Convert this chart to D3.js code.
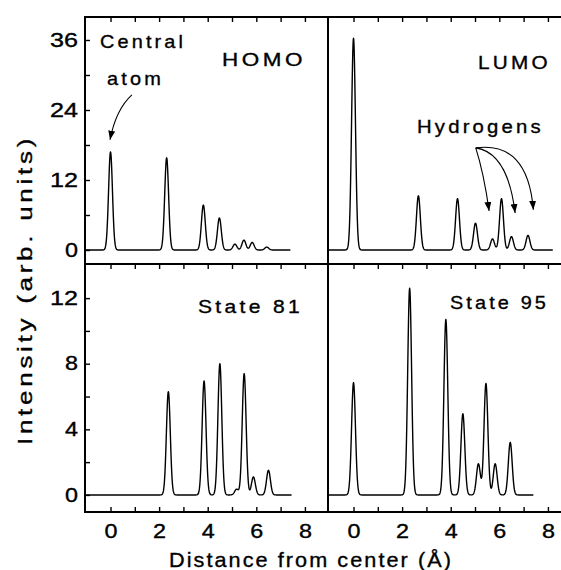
<!DOCTYPE html>
<html>
<head>
<meta charset="utf-8">
<script src="https://cdn.jsdelivr.net/npm/d3@7"></script>
<style>
  body { margin: 0; background: #fff; }
  svg { display: block; font-family: "Liberation Sans", Arial, sans-serif; }
  svg text { stroke: #000; stroke-width: 0.35px; }
</style>
</head>
<body>
<div id="chart"></div>
<script>
var width = 561, height = 570;

// peak centres (Å) and peak heights (arb. units)
var homoPos    = [0, 2.31, 3.82, 4.48, 5.12, 5.49, 5.83, 6.43];
var homoHeight = [16.8, 15.8, 7.7, 5.5, 1.0, 1.7, 1.3, 0.5];
var lumoPos    = [0, 2.67, 4.28, 5.02, 5.72, 6.09, 6.5, 7.18];
var lumoHeight = [36.3, 9.3, 8.8, 4.6, 1.9, 8.8, 2.3, 2.5];
var s81Pos     = [2.38, 3.85, 4.5, 5.19, 5.5, 5.88, 6.5];
var s81Height  = [6.3, 6.95, 8.0, 0.35, 7.4, 1.1, 1.5];
var s95Pos     = [0, 2.31, 3.8, 4.5, 5.14, 5.45, 5.83, 6.45];
var s95Height  = [6.85, 12.6, 10.7, 4.95, 1.9, 6.8, 1.9, 3.2];
var curveEnd   = [7.4, 8.2, 7.45, 7.4];
var peakSigma  = 0.08;

// ticks
var xTicks = [0, 1, 2, 3, 4, 5, 6, 7, 8];
var xTickLabels = [0, 2, 4, 6, 8];
var topYTicks = [0, 6, 12, 18, 24, 30, 36];
var topYLabels = [0, 12, 24, 36];
var botYTicks = [0, 2, 4, 6, 8, 10, 12];
var botYLabels = [0, 4, 8, 12];

// frame layout (window.top is reserved, so f-prefixed names)
var fLeft = 85, fMid = 328, fRight = 571;
var fTop = 17, fMidY = 264, fBottom = 512;

var xScales = [
  d3.scaleLinear().domain([-1.05, 8.95]).range([fLeft, fMid]),
  d3.scaleLinear().domain([-1.05, 8.95]).range([fMid, fRight])
];
var yScales = [
  d3.scaleLinear().domain([-2.4, 39.94]).range([fMidY, fTop]),
  d3.scaleLinear().domain([-1.04, 14.08]).range([fBottom, fMidY])
];

var panels = [
  {pos: homoPos, hgt: homoHeight, end: curveEnd[0], col: 0, row: 0},
  {pos: lumoPos, hgt: lumoHeight, end: curveEnd[1], col: 1, row: 0},
  {pos: s81Pos,  hgt: s81Height,  end: curveEnd[2], col: 0, row: 1},
  {pos: s95Pos,  hgt: s95Height,  end: curveEnd[3], col: 1, row: 1}
];

// annotation layout, in data units of the panel
var notes = [
  {text: "Central",   panel: 0, x: -0.43, y: 34.6, w: 86},
  {text: "atom",      panel: 0, x: -0.14, y: 28.3, w: 57},
  {text: "HOMO",      panel: 0, x: 4.59,  y: 31.5, w: 84},
  {text: "LUMO",      panel: 1, x: 5.12,  y: 31.0, w: 73},
  {text: "Hydrogens", panel: 1, x: 2.61,  y: 20.05, w: 127},
  {text: "State 81",  panel: 2, x: 3.6,   y: 11.09, w: 105},
  {text: "State 95",  panel: 3, x: 3.97,  y: 11.34, w: 99}
];
var arrows = [
  {panel: 0, from: [0.88, 26.6], ctrl: [0.22, 24.1], to: [-0.02, 18.9]},
  {panel: 1, from: [5.03, 17.5], ctrl: [5.36, 13.2], to: [5.58, 6.7]},
  {panel: 1, from: [5.03, 17.5], ctrl: [6.35, 16.7], to: [6.65, 6.35]},
  {panel: 1, from: [5.03, 17.5], ctrl: [7.17, 18.7], to: [7.4, 6.9]}
];

var svg = d3.select("#chart").append("svg")
  .attr("width", width)
  .attr("height", height);

svg.append("defs").append("marker")
  .attr("id", "arrow")
  .attr("viewBox", "0 0 9 7")
  .attr("refX", 9)
  .attr("refY", 3.5)
  .attr("markerWidth", 9)
  .attr("markerHeight", 7)
  .attr("markerUnits", "userSpaceOnUse")
  .attr("orient", "auto")
  .append("path")
  .attr("d", "M0,0 L9,3.5 L0,7 z")
  .attr("fill", "#000");

function profile(pos, hgt, x0, x1) {
  return d3.range(x0, x1 + 1e-9, 0.01).map(function(x) {
    var v = 0;
    pos.forEach(function(c, i) {
      v += hgt[i] * Math.exp(-(x - c) * (x - c) / (2 * peakSigma * peakSigma));
    });
    return [x, v];
  });
}

// curves
panels.forEach(function(p) {
  var x = xScales[p.col], y = yScales[p.row];
  var line = d3.line()
    .x(function(d) { return x(d[0]); })
    .y(function(d) { return y(d[1]); });
  svg.append("path")
    .datum(profile(p.pos, p.hgt, x.domain()[0], p.end))
    .attr("d", line)
    .attr("fill", "none")
    .attr("stroke", "#000")
    .attr("stroke-width", 1.4)
    .attr("stroke-linejoin", "round");
});

// frame
var frame = [
  [fLeft, fTop, width, fTop],
  [fLeft, fMidY, width, fMidY],
  [fLeft, fBottom, width, fBottom],
  [fLeft, fTop, fLeft, fBottom],
  [fMid, fTop, fMid, fBottom]
];
svg.selectAll(".frame")
  .data(frame)
  .enter().append("line")
  .attr("class", "frame")
  .attr("x1", function(d) { return d[0]; })
  .attr("y1", function(d) { return d[1]; })
  .attr("x2", function(d) { return d[2]; })
  .attr("y2", function(d) { return d[3]; })
  .attr("stroke", "#000")
  .attr("stroke-width", 2)
  .attr("stroke-linecap", "square");

function styleTicks(g) {
  g.select(".domain").remove();
  g.selectAll(".tick line").attr("stroke", "#000").attr("stroke-width", 1.4);
  g.selectAll(".tick text")
    .attr("fill", "#000")
    .style("font-size", "19.5px")
    .filter(function() { return this.textContent !== ""; })
    .attr("textLength", function() { return 13 + 15 * (this.textContent.length - 1); })
    .attr("lengthAdjust", "spacingAndGlyphs");
}

// x ticks: top edge of every panel, bottom edge of the lower panels
[0, 1].forEach(function(col) {
  var x = xScales[col];
  [fTop, fMidY].forEach(function(yy) {
    svg.append("g")
      .attr("transform", "translate(0," + yy + ")")
      .call(d3.axisTop(x).tickValues(xTicks).tickSize(-5).tickFormat(""))
      .call(styleTicks);
  });
  svg.append("g")
    .attr("transform", "translate(0," + fBottom + ")")
    .call(d3.axisBottom(x).tickValues(xTicks).tickSize(-5).tickPadding(12.5)
      .tickFormat(function(d) { return xTickLabels.indexOf(d) >= 0 ? d : ""; }))
    .call(styleTicks);
});

// y ticks on the left edge
svg.append("g")
  .attr("transform", "translate(" + fLeft + ",0)")
  .call(d3.axisLeft(yScales[0]).tickValues(topYTicks).tickSize(-5).tickPadding(7)
    .tickFormat(function(d) { return topYLabels.indexOf(d) >= 0 ? d : ""; }))
  .call(styleTicks);
svg.append("g")
  .attr("transform", "translate(" + fLeft + ",0)")
  .call(d3.axisLeft(yScales[1]).tickValues(botYTicks).tickSize(-5).tickPadding(7)
    .tickFormat(function(d) { return botYLabels.indexOf(d) >= 0 ? d : ""; }))
  .call(styleTicks);

// panel labels
svg.selectAll(".note")
  .data(notes)
  .enter().append("text")
  .attr("class", "note")
  .attr("x", function(d) { return xScales[panels[d.panel].col](d.x); })
  .attr("y", function(d) { return yScales[panels[d.panel].row](d.y); })
  .attr("textLength", function(d) { return d.w; })
  .attr("lengthAdjust", "spacingAndGlyphs")
  .style("font-size", "19px")
  .style("letter-spacing", "3px")
  .text(function(d) { return d.text; });

// arrows
svg.selectAll(".arrow")
  .data(arrows)
  .enter().append("path")
  .attr("class", "arrow")
  .attr("d", function(d) {
    var x = xScales[panels[d.panel].col], y = yScales[panels[d.panel].row];
    var p = d3.path();
    p.moveTo(x(d.from[0]), y(d.from[1]));
    p.quadraticCurveTo(x(d.ctrl[0]), y(d.ctrl[1]), x(d.to[0]), y(d.to[1]));
    return p.toString();
  })
  .attr("fill", "none")
  .attr("stroke", "#000")
  .attr("stroke-width", 1.1)
  .attr("marker-end", "url(#arrow)");

// axis titles
svg.append("text")
  .attr("x", 169)
  .attr("y", 567)
  .attr("textLength", 284)
  .attr("lengthAdjust", "spacingAndGlyphs")
  .style("font-size", "21px")
  .style("letter-spacing", "2px")
  .text("Distance from center (Å)");

svg.append("text")
  .attr("transform", "translate(32,290) rotate(-90)")
  .attr("text-anchor", "middle")
  .attr("textLength", 310)
  .attr("lengthAdjust", "spacingAndGlyphs")
  .style("font-size", "21px")
  .style("letter-spacing", "3px")
  .text("Intensity (arb. units)");
</script>
</body>
</html>
